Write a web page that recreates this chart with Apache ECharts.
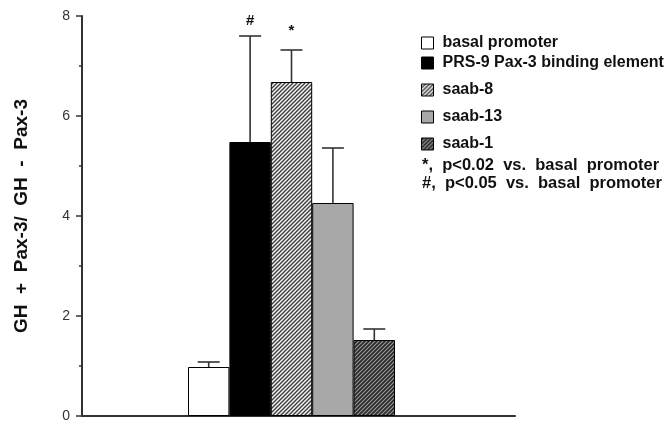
<!DOCTYPE html>
<html>
<head>
<meta charset="utf-8">
<script src="https://cdn.jsdelivr.net/npm/echarts@6/dist/echarts.min.js"></script>
<style>html,body{margin:0;padding:0;background:#fff;}#c{width:666px;height:423px;}</style>
</head>
<body>
<div id="c"></div>
<script>
const categories = ['basal promoter', 'PRS-9 Pax-3 binding element', 'saab-8', 'saab-13', 'saab-1'];
const means = [0.98, 5.48, 6.68, 4.26, 1.52];
const upperErr = [1.08, 7.6, 7.32, 5.36, 1.74];
const sigMarks = ['', '#', '*', '', ''];
const footnotes = ['*,  p<0.02  vs.  basal  promoter', '#,  p<0.05  vs.  basal  promoter'];
const yMin = 0, yMax = 8, yInterval = 2;
const yName = 'GH  +  Pax-3/  GH  -  Pax-3';

function stripes(bg, fg, period, lw) {
  const c = document.createElement('canvas');
  c.width = period; c.height = period;
  const g = c.getContext('2d');
  g.fillStyle = bg; g.fillRect(0, 0, period, period);
  g.strokeStyle = fg; g.lineWidth = lw;
  g.beginPath();
  g.moveTo(-1, period + 1); g.lineTo(period + 1, -1);
  g.moveTo(-1, 1); g.lineTo(1, -1);
  g.moveTo(period - 1, period + 1); g.lineTo(period + 1, period - 1);
  g.stroke();
  return { image: c, repeat: 'repeat' };
}
const fills = [
  '#ffffff',
  '#000000',
  stripes('#f2f2f2', '#3a3a3a', 4, 1.3),
  '#a8a8a8',
  stripes('#2a2a2a', '#9a9a9a', 4, 1.1)
];

const font = 'Liberation Sans, Arial, Helvetica, sans-serif';
const markLift = { '#': 8, '*': 12 };
const chart = echarts.init(document.getElementById('c'));

const barSeries = categories.map((name, i) => ({
  name: name,
  type: 'bar',
  xAxisIndex: 1,
  yAxisIndex: 1,
  stack: 'all',
  barCategoryGap: '0%',
  data: means.map((v, j) => (j === i ? v : '-')),
  itemStyle: { color: fills[i], borderColor: '#000', borderWidth: 1 },
  emphasis: { disabled: true },
  z: 2
}));

const errSeries = {
  type: 'custom',
  xAxisIndex: 1,
  yAxisIndex: 1,
  data: means.map((m, i) => [i, m, upperErr[i]]),
  z: 5,
  renderItem: function (params, api) {
    const x = api.value(0), m = api.value(1), u = api.value(2);
    const p0 = api.coord([x, m]);
    const p1 = api.coord([x, u]);
    const half = 11;
    const st = { stroke: '#333', lineWidth: 1.6 };
    const children = [
      { type: 'line', shape: { x1: p0[0], y1: p0[1], x2: p1[0], y2: p1[1] }, style: st },
      { type: 'line', shape: { x1: p1[0] - half, y1: p1[1], x2: p1[0] + half, y2: p1[1] }, style: st }
    ];
    const mark = sigMarks[params.dataIndex];
    if (mark) {
      children.push({
        type: 'text',
        style: {
          text: mark, x: p1[0], y: p1[1] - markLift[mark],
          textAlign: 'center', textVerticalAlign: 'bottom',
          font: 'bold 15px ' + font, fill: '#111'
        }
      });
    }
    return { type: 'group', children: children };
  }
};

const legendCommon = {
  orient: 'vertical',
  left: 416,
  icon: 'rect',
  itemWidth: 12,
  itemHeight: 12,
  itemGap: 11,
  selectedMode: false,
  itemStyle: { borderColor: '#000', borderWidth: 1 },
  textStyle: { fontFamily: font, fontWeight: 'bold', fontSize: 16, color: '#111', padding: [0, 0, 0, 4] }
};

chart.setOption({
  animation: false,
  backgroundColor: '#fff',
  grid: [
    { left: 82, right: 151, top: 16, bottom: 7 },
    { left: 188, right: 271, top: 16, bottom: 7 }
  ],
  xAxis: [
    { gridIndex: 0, type: 'category', data: [''],
      axisLine: { lineStyle: { color: '#333', width: 2 } },
      axisTick: { show: false }, axisLabel: { show: false }, splitLine: { show: false } },
    { gridIndex: 1, type: 'category', data: categories, show: false }
  ],
  yAxis: [
    { gridIndex: 0, type: 'value', min: yMin, max: yMax, interval: yInterval,
      name: yName, nameLocation: 'middle', nameRotate: 90, nameGap: 51,
      nameTextStyle: { fontFamily: font, fontWeight: 'bold', fontSize: 19, color: '#111' },
      axisLine: { show: true, lineStyle: { color: '#333', width: 2 } },
      axisTick: { show: true, length: 6, lineStyle: { color: '#333', width: 1.5 } },
      minorTick: { show: true, splitNumber: 2, length: 3, lineStyle: { color: '#333', width: 1.5 } },
      axisLabel: { fontFamily: font, fontSize: 14, color: '#333', margin: 12 },
      splitLine: { show: false } },
    { gridIndex: 1, type: 'value', min: yMin, max: yMax, show: false, splitLine: { show: false } }
  ],
  legend: [
    Object.assign({}, legendCommon, { top: 30, data: [categories[0]] }),
    Object.assign({}, legendCommon, { top: 50, data: categories.slice(1) })
  ],
  graphic: footnotes.map((t, i) => ({
    type: 'text', left: 422, top: 157 + i * 18,
    style: { text: t, font: 'bold 16.5px ' + font, fill: '#111' }
  })),
  series: barSeries.concat([errSeries])
});
</script>
</body>
</html>
